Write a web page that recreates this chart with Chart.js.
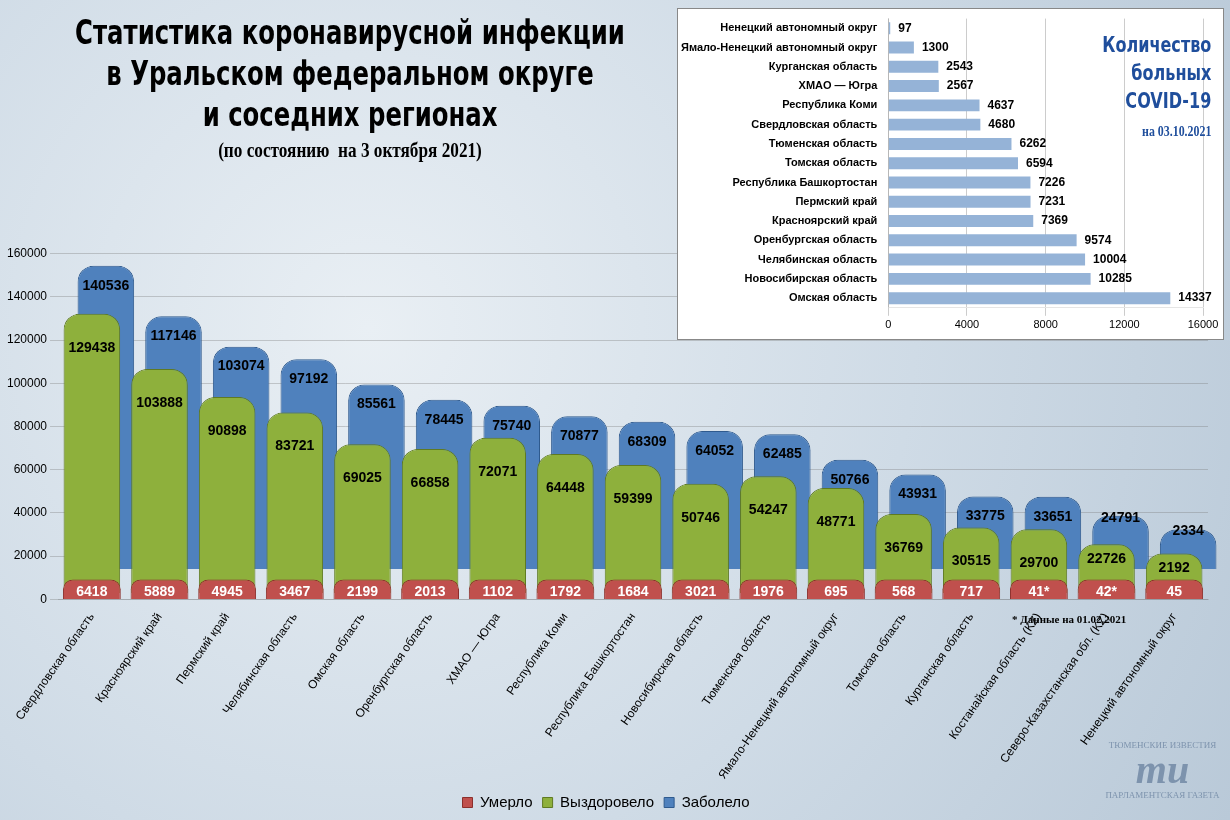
<!DOCTYPE html>
<html><head><meta charset="utf-8">
<script src="https://cdn.jsdelivr.net/npm/chart.js@4"></script>
<style>
body{margin:0;width:1230px;height:820px;overflow:hidden;font-family:"Liberation Sans",Arial,sans-serif;
background:radial-gradient(circle at 30% 40%,#e9eff4 0%,#cfdbe6 55%,#b9c9d8 100%);}
#main{position:absolute;left:0;top:0;width:1230px;height:820px;}
.narrow{font-family:"DejaVu Sans Condensed","DejaVu Sans",sans-serif;font-stretch:condensed;}
#title{position:absolute;left:-20px;top:12px;width:740px;text-align:center;font-weight:bold;font-size:33px;line-height:41px;color:#000;transform:scaleX(0.82);transform-origin:center top;}
#title small{display:block;font-family:"Liberation Serif",serif;font-size:21px;line-height:30px;}
#inset{position:absolute;left:677px;top:8px;width:545px;height:330px;background:#fff;border:1px solid #888;}
#insetTitle{position:absolute;right:12px;top:22px;text-align:right;font-weight:bold;font-size:21px;line-height:28px;color:#1f4e9c;transform:scaleX(0.85);transform-origin:right top;}
#insetTitle small{font-family:"Liberation Serif",serif;font-size:14px;}
#note{position:absolute;left:1012px;top:613px;font-family:"Liberation Serif",serif;font-size:11px;font-weight:bold;}
#logo{position:absolute;left:1105px;top:740px;width:115px;text-align:center;color:#7d93ad;font-family:"Liberation Serif",serif;}
</style></head><body>
<canvas id="main" width="1230" height="820"></canvas>
<div id="title" class="narrow">Статистика коронавирусной инфекции<br>в Уральском федеральном округе<br>и соседних регионах<small>(по состоянию &nbsp;на 3 октября 2021)</small></div>
<div id="note">* Данные на 01.02.2021</div>
<div id="inset"><canvas id="side" width="545" height="330"></canvas>
<div id="insetTitle" class="narrow">Количество<br>больных<br>COVID-19<br><small>на 03.10.2021</small></div></div>
<div id="logo"><div style="font-size:9px">ТЮМЕНСКИЕ ИЗВЕСТИЯ</div><div style="font-size:40px;font-weight:bold;line-height:40px;font-style:italic">ти</div><div style="font-size:9px">ПАРЛАМЕНТСКАЯ ГАЗЕТА</div></div>
<script>
const regions = ["Свердловская область","Красноярский край","Пермский край","Челябинская область","Омская область","Оренбургская область","ХМАО — Югра","Республика Коми","Республика Башкортостан","Новосибирская область","Тюменская область","Ямало-Ненецкий автономный округ","Томская область","Курганская область","Костанайская область (KZ)","Северо-Казахстанская обл. (KZ)","Ненецкий автономный округ"];
const died = [6418,5889,4945,3467,2199,2013,1102,1792,1684,3021,1976,695,568,717,41,42,45];
const diedLabels = ["6418","5889","4945","3467","2199","2013","1102","1792","1684","3021","1976","695","568","717","41*","42*","45"];
const recovered = [129438,103888,90898,83721,69025,66858,72071,64448,59399,50746,54247,48771,36769,30515,29700,22726,2192];
const infected = [140536,117146,103074,97192,85561,78445,75740,70877,68309,64052,62485,50766,43931,33775,33651,24791,2334];
const yTicks = [0,20000,40000,60000,80000,100000,120000,140000,160000];

const sideRegions = ["Ненецкий автономный округ","Ямало-Ненецкий автономный округ","Курганская область","ХМАО — Югра","Республика Коми","Свердловская область","Тюменская область","Томская область","Республика Башкортостан","Пермский край","Красноярский край","Оренбургская область","Челябинская область","Новосибирская область","Омская область"];
const sick = [97,1300,2543,2567,4637,4680,6262,6594,7226,7231,7369,9574,10004,10285,14337];

// pseudo-3D depth: blue drawn behind, shifted up and right
const shift = [[0, 0], [0, -6], [14, -30]];

const depthPlugin = {
  id: "depth",
  beforeDatasetDraw(chart, args) {
    const s = shift[args.index];
    chart.ctx.save();
    chart.ctx.translate(s[0], s[1]);
  },
  afterDatasetDraw(chart) { chart.ctx.restore(); },
  afterDatasetsDraw(chart) {
    const ctx = chart.ctx;
    ctx.save();
    ctx.font = "bold 14px 'Liberation Sans', Arial";
    ctx.textAlign = "center";
    chart.data.datasets.forEach((ds, i) => {
      const s = shift[i];
      chart.getDatasetMeta(i).data.forEach((bar, j) => {
        let y, txt = String(ds.data[j]);
        const small = bar.base - bar.y < 60;
        if (i === 0) { txt = diedLabels[j]; y = bar.base - 7; ctx.fillStyle = "#fff"; }
        else if (i === 1) { y = small ? bar.y + s[1] + 15 : bar.y + s[1] + 34; ctx.fillStyle = "#000"; }
        else { y = small ? bar.y + s[1] + 2 : bar.y + s[1] + 20; ctx.fillStyle = "#000"; }
        ctx.fillText(txt, bar.x + s[0], y);
      });
    });
    ctx.restore();
  }
};

new Chart(document.getElementById("main"), {
  type: "bar",
  data: {
    labels: regions,
    datasets: [
      {label: "Умерло", data: died, backgroundColor: "#c0504d", borderColor: "#8c2f2c", borderWidth: 1, borderRadius: 12, order: 0, minBarLength: 20},
      {label: "Выздоровело", data: recovered, backgroundColor: "#8eb03c", borderColor: "#5f7a22", borderWidth: 1, borderRadius: 16, order: 1, barPercentage: 0.88, minBarLength: 40},
      {label: "Заболело", data: infected, backgroundColor: "#4f81bd", borderColor: "#2f5a8e", borderWidth: 1, borderRadius: 16, order: 2, barPercentage: 0.88, minBarLength: 40}
    ]
  },
  options: {
    responsive: false, animation: false,
    layout: {padding: {top: 232, right: 22, left: 4}},
    datasets: {bar: {grouped: false, categoryPercentage: 0.95}},
    scales: {
      x: {grid: {display: false}, ticks: {color: "#000", font: {size: 12}, maxRotation: 55, minRotation: 55}},
      y: {min: 0, max: 170000, grid: {color: "rgba(120,120,120,0.35)"}, border: {display: false},
          afterBuildTicks: axis => { axis.ticks = yTicks.map(v => ({value: v})); },
          ticks: {color: "#000", font: {size: 12}, callback: v => String(v)}}
    },
    plugins: {
      legend: {position: "bottom", labels: {boxWidth: 10, boxHeight: 10, color: "#000", font: {size: 15}}},
      tooltip: {enabled: false}
    }
  },
  plugins: [depthPlugin]
});

new Chart(document.getElementById("side"), {
  type: "bar",
  data: {labels: sideRegions, datasets: [{data: sick, backgroundColor: "#95b3d7", barPercentage: 0.62, categoryPercentage: 1}]},
  options: {
    indexAxis: "y", responsive: false, animation: false,
    layout: {padding: {top: 8, right: 20, bottom: 4}},
    scales: {
      x: {min: 0, max: 16000, ticks: {stepSize: 4000, color: "#000", font: {size: 11}, callback: v => String(v)}, grid: {color: "#ccc"}},
      y: {grid: {display: false}, ticks: {color: "#000", font: {size: 11, weight: "bold"}}}
    },
    plugins: {legend: {display: false}, tooltip: {enabled: false}}
  },
  plugins: [{
    id: "vals",
    afterDatasetsDraw(chart) {
      const ctx = chart.ctx;
      ctx.save();
      ctx.font = "bold 12px 'Liberation Sans', Arial";
      ctx.fillStyle = "#000";
      ctx.textBaseline = "middle";
      chart.getDatasetMeta(0).data.forEach((bar, j) => ctx.fillText(sick[j], bar.x + 8, bar.y));
      ctx.restore();
    }
  }]
});
</script>
</body></html>
